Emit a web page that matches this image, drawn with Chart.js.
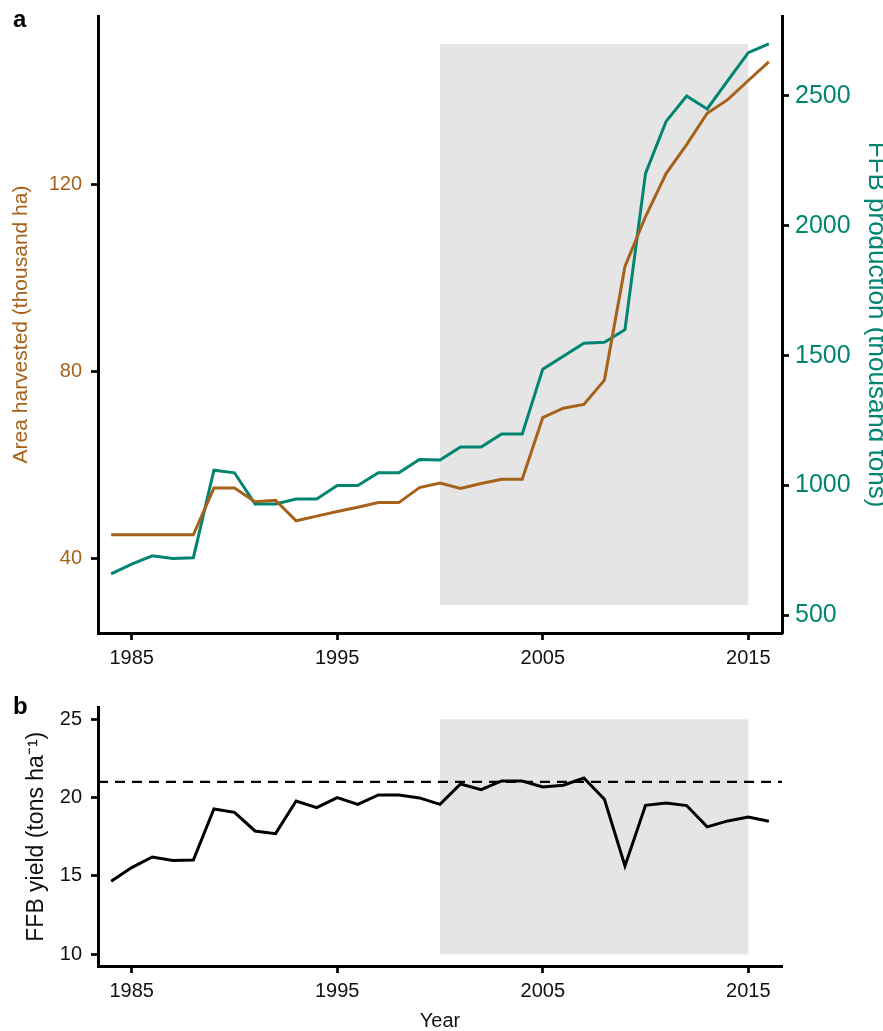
<!DOCTYPE html>
<html>
<head>
<meta charset="utf-8">
<title>Oil palm: area, FFB production and yield</title>
<script src="https://cdn.jsdelivr.net/npm/chart.js@4.4.1/dist/chart.umd.min.js"></script>
<style>
  html, body { margin: 0; padding: 0; background: #fff; }
  #wrap { position: relative; width: 883px; height: 1031px; overflow: hidden;
          font-family: "Liberation Sans", Arial, sans-serif; }
  #wrap canvas { position: absolute; left: 0; }
  #chartTop { top: 0; }
  #chartBottom { top: 690px; }
  .panel { position: absolute; font-weight: bold; font-size: 24px; line-height: 24px; color: #000; }
</style>
</head>
<body>
<div id="wrap">
  <canvas id="chartTop" width="883" height="680"></canvas>
  <canvas id="chartBottom" width="883" height="341"></canvas>
  <div class="panel" style="left:13px; top:7px;">a</div>
  <div class="panel" style="left:13px; top:694px;">b</div>
</div>

<script>
// ---- data -------------------------------------------------------------
const years = [1984, 1985, 1986, 1987, 1988, 1989, 1990, 1991, 1992, 1993, 1994,
               1995, 1996, 1997, 1998, 1999, 2000, 2001, 2002, 2003, 2004, 2005,
               2006, 2007, 2008, 2009, 2010, 2011, 2012, 2013, 2014, 2015, 2016];

// area harvested, thousand ha
const areaHarvested = [45, 45, 45, 45, 45, 55, 55, 52.1, 52.4, 48.0, 49.0,
                       50.0, 50.9, 51.9, 51.9, 55.1, 56.1, 54.9, 56.0, 56.9, 56.9, 70.1,
                       72.1, 72.9, 78.1, 102.4, 113.1, 122.3, 128.5, 135.2, 138.1, 142.2, 146.2];

// FFB production, thousand tons
const ffbProduction = [660, 697, 729, 719, 722, 1059, 1049, 929, 929, 948, 948,
                       1000, 1000, 1049, 1049, 1100, 1098, 1148, 1148, 1198, 1198, 1448,
                       1498, 1548, 1552, 1600, 2202, 2402, 2500, 2450, 2559, 2667, 2701];

// FFB yield, tons per ha
const ffbYield = [14.66, 15.53, 16.21, 15.98, 16.02, 19.27, 19.06, 17.87, 17.70, 19.78, 19.36,
                  20.00, 19.57, 20.17, 20.17, 19.98, 19.57, 20.87, 20.51, 21.06, 21.06, 20.68,
                  20.79, 21.25, 19.89, 15.64, 19.51, 19.66, 19.49, 18.13, 18.51, 18.76, 18.49];

const yieldReference = 21;            // dashed reference line

// highlighted period
const periodYears = [2000, 2015];
const periodAreaRange = [30, 150];     // on the area axis
const periodYieldRange = [10, 25];     // on the yield axis

// tick labels
const yearTicks = [1985, 1995, 2005, 2015];
const areaTicks = [40, 80, 120];
const productionTicks = [500, 1000, 1500, 2000, 2500];
const yieldTicks = [10, 15, 20, 25];

// axis limits
const yearLimits = [1983.36, 2016.64];
const areaLimits = [24, 156];
const productionPerArea = 18;          // right axis = 18 x left axis
const yieldLimits = [9.25, 25.75];

// ---- styling ------------------------------------------------------------
const BROWN = '#A6611A';
const GREEN = '#018571';
const SHADE = '#E5E5E5';
const FONT = '"Liberation Sans", Arial, sans-serif';

const pairs = (xs, ys) => xs.map((x, i) => ({ x: x, y: ys[i] }));
const fixedTicks = list => scale => { scale.ticks = list.map(v => ({ value: v })); };

// fixed box sizes; label overhang must not push the plot area around
const fixWidth = w => s => { s.width = w; s.paddingTop = 0; s.paddingBottom = 0; };
const fixHeight = h => s => { s.height = h; s.paddingLeft = 0; s.paddingRight = 0; };

// shaded band behind the lines, placed through the chart's own scales
const shadeBand = {
  id: 'shadeBand',
  beforeDatasetsDraw(chart, args, opts) {
    const xs = chart.scales.x, ys = chart.scales[opts.yAxis];
    const x0 = xs.getPixelForValue(opts.x[0]), x1 = xs.getPixelForValue(opts.x[1]);
    const y0 = ys.getPixelForValue(opts.y[1]), y1 = ys.getPixelForValue(opts.y[0]);
    const ctx = chart.ctx;
    ctx.save();
    ctx.fillStyle = opts.color;
    ctx.fillRect(x0, y0, x1 - x0, y1 - y0);
    ctx.restore();
  }
};

const axisLine = { display: true, color: '#000', width: 3 };
const tickMarks = { display: true, drawOnChartArea: false, drawTicks: true,
                    tickLength: 7, tickWidth: 2.7, tickColor: '#000' };

function yearAxis(height, title) {
  return {
    type: 'linear',
    min: yearLimits[0], max: yearLimits[1],
    afterBuildTicks: fixedTicks(yearTicks),
    afterFit: fixHeight(height),
    border: axisLine,
    grid: tickMarks,
    ticks: { color: '#111', padding: 6, font: { family: FONT, size: 20 },
             callback: v => String(v), maxRotation: 0, autoSkip: false },
    title: title
  };
}

// ---- panel a: area and production ------------------------------------------
new Chart(document.getElementById('chartTop'), {
  type: 'line',
  data: {
    datasets: [
      { label: 'Area harvested', data: pairs(years, areaHarvested), yAxisID: 'yArea',
        borderColor: BROWN, borderWidth: 3, pointRadius: 0, tension: 0, fill: false },
      { label: 'FFB production', data: pairs(years, ffbProduction), yAxisID: 'yProd',
        borderColor: GREEN, borderWidth: 3, pointRadius: 0, tension: 0, fill: false }
    ]
  },
  options: {
    responsive: false, animation: false, devicePixelRatio: 1,
    layout: { padding: { top: 16, left: 0, right: 0, bottom: 0 }, autoPadding: false },
    plugins: {
      legend: { display: false }, tooltip: { enabled: false },
      shadeBand: { x: periodYears, y: periodAreaRange, yAxis: 'yArea', color: SHADE }
    },
    scales: {
      x: yearAxis(47, { display: false }),
      yArea: {
        type: 'linear', position: 'left',
        min: areaLimits[0], max: areaLimits[1],
        afterBuildTicks: fixedTicks(areaTicks),
        afterFit: fixWidth(98),
        border: axisLine, grid: tickMarks,
        ticks: { color: BROWN, padding: 9, font: { family: FONT, size: 20 }, callback: v => String(v) },
        title: { display: true, text: 'Area harvested (thousand ha)', color: BROWN,
                 font: { family: FONT, size: 21 }, padding: { top: 9, bottom: 0 } }
      },
      yProd: {
        type: 'linear', position: 'right',
        min: areaLimits[0] * productionPerArea, max: areaLimits[1] * productionPerArea,
        afterBuildTicks: fixedTicks(productionTicks),
        afterFit: fixWidth(101),
        border: axisLine, grid: tickMarks,
        ticks: { color: GREEN, padding: 6, font: { family: FONT, size: 25 }, callback: v => String(v) },
        title: { display: true, text: 'FFB production (thousand tons)', color: GREEN,
                 font: { family: FONT, size: 26, lineHeight: 1 }, padding: { top: -6, bottom: 0 } }
      }
    }
  },
  plugins: [shadeBand]
});

// ---- panel b: yield -------------------------------------------------------------
new Chart(document.getElementById('chartBottom'), {
  type: 'line',
  data: {
    datasets: [
      { label: 'FFB yield', data: pairs(years, ffbYield), yAxisID: 'y',
        borderColor: '#000', borderWidth: 3, pointRadius: 0, tension: 0, fill: false },
      { label: 'Reference yield', data: pairs(yearLimits, [yieldReference, yieldReference]), yAxisID: 'y',
        borderColor: '#000', borderWidth: 2.2, borderDash: [10, 7], pointRadius: 0, fill: false }
    ]
  },
  options: {
    responsive: false, animation: false, devicePixelRatio: 1,
    layout: { padding: { top: 17.5, left: 0, right: 101, bottom: 0 }, autoPadding: false },
    plugins: {
      legend: { display: false }, tooltip: { enabled: false },
      shadeBand: { x: periodYears, y: periodYieldRange, yAxis: 'y', color: SHADE }
    },
    scales: {
      x: yearAxis(65, { display: true, text: 'Year', color: '#111',
                        font: { family: FONT, size: 20 }, padding: { top: 0, bottom: -2 } }),
      y: {
        type: 'linear', position: 'left',
        min: yieldLimits[0], max: yieldLimits[1],
        afterBuildTicks: fixedTicks(yieldTicks),
        afterFit: fixWidth(98),
        border: axisLine, grid: tickMarks,
        ticks: { color: '#111', padding: 9, font: { family: FONT, size: 20 }, callback: v => String(v) },
        title: { display: true, text: 'FFB yield (tons ha\u207B\u00B9)', color: '#111',
                 font: { family: FONT, size: 23 }, padding: { top: 23, bottom: 0 } }
      }
    }
  },
  plugins: [shadeBand]
});
</script>
</body>
</html>
